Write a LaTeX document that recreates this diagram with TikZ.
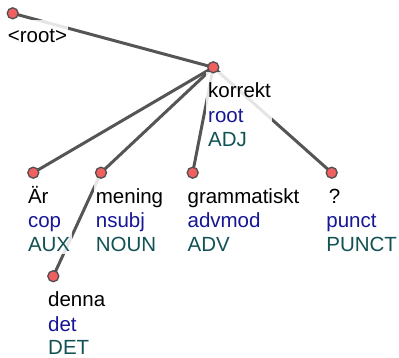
\documentclass[tikz,border=0pt]{standalone}
\usepackage{fontspec}
\setmainfont{Liberation Sans}
\usetikzlibrary{calc,fit}
\definecolor{edgegray}{RGB}{85,85,85}
\definecolor{nodefill}{RGB}{240,96,96}
\definecolor{nodeline}{RGB}{80,80,80}
\definecolor{relblue}{RGB}{22,22,150}
\definecolor{posteal}{RGB}{18,82,84}
\pgfdeclarelayer{edges}
\pgfdeclarelayer{boxes}
\pgfsetlayers{edges,boxes,main}
\tikzset{
  tok/.style={circle, draw=nodeline, fill=nodefill, line width=1.3pt, minimum size=11pt, inner sep=0pt},
  wordlab/.style={anchor=base west, inner sep=0pt, font=\fontsize{20.5}{24}\selectfont, text=black},
  rellab/.style={wordlab, text=relblue},
  poslab/.style={wordlab, text=posteal},
  dep/.style={draw=edgegray, line width=3pt},
  labbox/.style={fill=white, fill opacity=0.85},
  hull/.style={inner sep=0pt}
}
\begin{document}
\begin{tikzpicture}[x=1pt, y=-1pt]
\useasboundingbox (0,0) rectangle (399,357);

% tokens
\node[tok] (root) at (12.7,13.3) {};
\node[tok] (korrekt) at (213.3,67.3) {};
\node[tok] (ar) at (33.3,172.7) {};
\node[tok] (mening) at (101,172.7) {};
\node[tok] (gram) at (192.7,172.7) {};
\node[tok] (qm) at (331.7,172.7) {};
\node[tok] (denna) at (53.3,276.2) {};

% labels: word, relation, part of speech
\node[wordlab] (root-w) at ($(root)+(-5,29.5)$) {<root>};

\node[wordlab] (korrekt-w) at ($(korrekt)+(-5.3,30.5)$) {korrekt};
\node[rellab]  (korrekt-r) at ($(korrekt)+(-5.3,54.8)$) {root};
\node[poslab]  (korrekt-p) at ($(korrekt)+(-5.3,79)$) {ADJ};

\node[wordlab] (ar-w) at ($(ar)+(-5.5,30.5)$) {Är};
\node[rellab]  (ar-r) at ($(ar)+(-5.5,54.8)$) {cop};
\node[poslab]  (ar-p) at ($(ar)+(-5.5,79)$) {AUX};

\node[wordlab] (mening-w) at ($(mening)+(-5.3,30.5)$) {mening};
\node[rellab]  (mening-r) at ($(mening)+(-5.3,54.8)$) {nsubj};
\node[poslab]  (mening-p) at ($(mening)+(-5.3,79)$) {NOUN};

\node[wordlab] (gram-w) at ($(gram)+(-5.3,30.5)$) {grammatiskt};
\node[rellab]  (gram-r) at ($(gram)+(-5.3,54.8)$) {advmod};
\node[poslab]  (gram-p) at ($(gram)+(-5.3,79)$) {ADV};

\node[wordlab] (qm-w) at ($(qm)+(-3,30.5)$) {?};
\node[rellab]  (qm-r) at ($(qm)+(-5.5,54.8)$) {punct};
\node[poslab]  (qm-p) at ($(qm)+(-5.5,79)$) {PUNCT};

\node[wordlab] (denna-w) at ($(denna)+(-5.3,30.5)$) {denna};
\node[rellab]  (denna-r) at ($(denna)+(-5.3,54.8)$) {det};
\node[poslab]  (denna-p) at ($(denna)+(-5.3,78.5)$) {DET};

% translucent panels behind the label groups
\begin{pgfonlayer}{boxes}
  \node[hull, fit=(root-w)] (root-f) {};
  \fill[labbox] ($(root)+(-7,6.5)$) rectangle ($(root-f.east |- root-w.base)+(0,4)$);
  \foreach \t in {korrekt,ar,mening,gram,qm,denna}{
    \node[hull, fit=(\t-w)(\t-r)(\t-p)] (\t-f) {};
    \fill[labbox] ($(\t)+(-7,5)$) rectangle ($(\t-f.east |- \t-p.base)+(1,2)$);
  }
\end{pgfonlayer}

% dependency arcs
\begin{pgfonlayer}{edges}
  \draw[dep] (root.center) -- (korrekt.center);
  \draw[dep] (korrekt.center) -- (ar.center);
  \draw[dep] (korrekt.center) -- (mening.center);
  \draw[dep] (korrekt.center) -- (gram.center);
  \draw[dep] (korrekt.center) -- (qm.center);
  \draw[dep] (mening.center) -- (denna.center);
\end{pgfonlayer}
\end{tikzpicture}
\end{document}
